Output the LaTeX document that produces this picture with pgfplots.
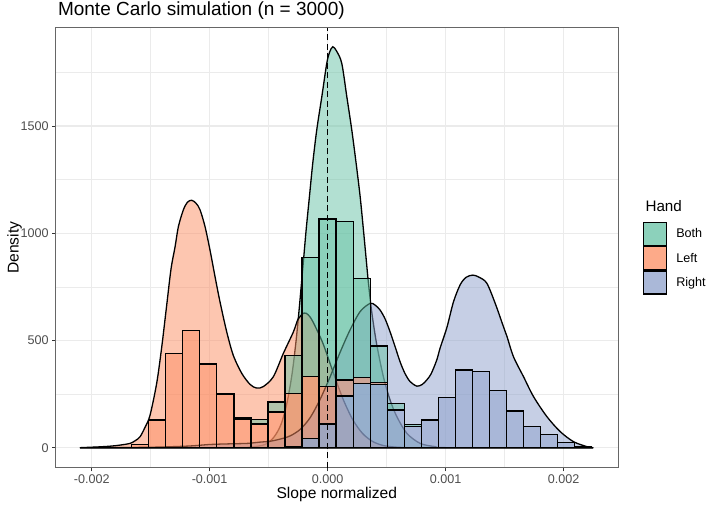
\documentclass[border=0pt]{standalone}
\usepackage{pgfplots}
\pgfplotsset{compat=1.18}
\usepackage{fontspec}
\setmainfont{Liberation Sans}
\definecolor{cboth}{HTML}{66C2A5}
\definecolor{cleft}{HTML}{FC8D62}
\definecolor{cright}{HTML}{8DA0CB}
\definecolor{kboth}{HTML}{8CD1BB}
\definecolor{kleft}{HTML}{FDAA89}
\definecolor{kright}{HTML}{AAB8D8}
\definecolor{tickgrey}{HTML}{4D4D4D}
\definecolor{gridgrey}{HTML}{EBEBEB}
\begin{document}
\begin{tikzpicture}[x=1bp,y=1bp]
\useasboundingbox (0,0) rectangle (706,506);
\pgfplotsset{
 commonaxis/.style={
  at={(55.7bp,38.3bp)}, anchor=south west, scale only axis,
  width=562.3bp, height=440bp,
  xmin=-2.305, xmax=2.462, ymin=-93.3, ymax=1959,
 }
}
\begin{axis}[commonaxis,
  axis line style={draw=black!60, line width=0.9bp},
  xtick={-2,-1,0,1,2}, xticklabels={-0.002,-0.001,0.000,0.001,0.002},
  minor xtick={-1.5,-0.5,0.5,1.5},
  ytick={0,500,1000,1500}, yticklabels={0,500,1000,1500},
  minor ytick={250,750,1250,1750},
  grid=both,
  major grid style={draw=gridgrey, line width=1.2bp},
  minor grid style={draw=gridgrey, line width=0.6bp},
  tick align=outside, major tick length=3.6bp, minor tick length=0pt,
  tick style={draw=black!80, line width=0.9bp},
  xtick pos=left, ytick pos=left,
  ticklabel style={font=\fontsize{12.6bp}{14bp}\selectfont, text=tickgrey},
  legend style={at={(1.0445,0.559)}, anchor=north west, draw=none, fill=none,
    inner sep=0pt, outer sep=0pt, row sep=0pt, column sep=9bp,
    nodes={inner sep=0pt, font=\fontsize{12.6bp}{14bp}\selectfont, text=black, anchor=base west}},
  legend cell align=left,
]
\addplot[draw=black, fill=cboth, fill opacity=0.5, line width=1.3bp, smooth, tension=0.5,
  legend image code/.code={\draw[draw=black, fill=kboth, fill opacity=1, line width=1.3bp] (0bp,-7.5bp) rectangle (23bp,15.5bp);}]
coordinates {
(-2.099,0) (-0.827,0) (-0.657,3) (-0.530,15) (-0.454,50) (-0.394,110) (-0.344,210)
(-0.301,345) (-0.267,500) (-0.242,640) (-0.221,770) (-0.205,870) (-0.182,1015)
(-0.154,1171) (-0.126,1326) (-0.092,1482) (-0.049,1637) (-0.007,1793) (0.017,1845)
(0.044,1870) (0.076,1850) (0.120,1793) (0.163,1637) (0.205,1482) (0.242,1326)
(0.276,1171) (0.304,1015) (0.327,880) (0.346,770) (0.375,630) (0.417,480)
(0.473,331) (0.530,222) (0.587,145) (0.672,67) (0.785,20) (0.912,5) (1.039,0) (2.252,0)
} \closedcycle;
\addlegendentry{Both}
\addplot[draw=black, fill=cleft, fill opacity=0.5, line width=1.3bp, smooth, tension=0.5,
  legend image code/.code={\draw[draw=black, fill=kleft, fill opacity=1, line width=1.3bp] (0bp,-7.5bp) rectangle (23bp,15.5bp);}]
coordinates {
(-2.099,0) (-2.014,2) (-1.930,4) (-1.845,7) (-1.760,12) (-1.675,20) (-1.633,32)
(-1.590,51) (-1.548,95) (-1.506,150) (-1.449,300) (-1.406,470) (-1.364,665)
(-1.327,835) (-1.293,937) (-1.265,1031) (-1.223,1109) (-1.188,1145) (-1.152,1154)
(-1.115,1140) (-1.081,1109) (-1.039,1031) (-0.997,922) (-0.954,797) (-0.912,680)
(-0.855,540) (-0.799,430) (-0.728,347) (-0.657,295) (-0.601,278) (-0.545,285)
(-0.460,331) (-0.375,440) (-0.290,540) (-0.250,600) (-0.200,628) (-0.165,620)
(-0.127,590) (-0.042,490) (0.042,360) (0.127,232) (0.212,132) (0.297,66)
(0.382,29) (0.466,11) (0.551,4) (0.636,1) (0.785,0) (2.252,0)
} \closedcycle;
\addlegendentry{Left}
\addplot[draw=black, fill=cright, fill opacity=0.5, line width=1.3bp, smooth, tension=0.5,
  legend image code/.code={\draw[draw=black, fill=kright, fill opacity=1, line width=1.3bp] (0bp,-7.5bp) rectangle (23bp,15.5bp);}]
coordinates {
(-2.099,0) (-1.675,1) (-1.421,3) (-1.166,8) (-0.997,15) (-0.827,18) (-0.683,20)
(-0.573,26) (-0.488,30) (-0.403,40) (-0.318,55) (-0.233,85) (-0.148,140)
(-0.064,225) (0.021,330) (0.106,445) (0.191,550) (0.276,635) (0.360,673)
(0.403,665) (0.445,642) (0.488,600) (0.530,540) (0.573,470) (0.615,400)
(0.657,345) (0.700,308) (0.757,287) (0.802,295) (0.841,316) (0.878,345)
(0.926,410) (0.954,465) (1.011,560) (1.067,680) (1.124,760) (1.175,795)
(1.232,805) (1.285,795) (1.350,767) (1.421,673) (1.491,564) (1.520,520)
(1.576,424) (1.661,331) (1.746,238) (1.859,145) (1.972,75) (2.085,28)
(2.198,5) (2.252,0)
} \closedcycle;
\addlegendentry{Right}
\end{axis}
\begin{axis}[commonaxis, hide axis, ybar stacked, bar width=0.1445]
\addplot[fill=cright, fill opacity=0.5, draw=black, line width=1.3bp] coordinates {
(-1.5895,0) (-1.445,0) (-1.3005,0) (-1.156,0) (-1.0115,0) (-0.867,0) (-0.7225,0)
(-0.578,0) (-0.4335,0) (-0.289,5) (-0.1445,44) (0,110) (0.1445,241) (0.289,300)
(0.4335,296) (0.578,176) (0.7225,100) (0.867,129) (1.0115,235) (1.156,362)
(1.3005,355) (1.445,266) (1.5895,171) (1.734,98) (1.8785,62) (2.023,23) (2.1675,6)
};
\addplot[fill=cleft, fill opacity=0.5, draw=black, line width=1.3bp] coordinates {
(-1.5895,15) (-1.445,129) (-1.3005,440) (-1.156,547) (-1.0115,388) (-0.867,249) (-0.7225,132)
(-0.578,110) (-0.4335,166) (-0.289,249) (-0.1445,287) (0,175) (0.1445,75) (0.289,27)
(0.4335,8) (0.578,0) (0.7225,0) (0.867,0) (1.0115,0) (1.156,0)
(1.3005,0) (1.445,0) (1.5895,0) (1.734,0) (1.8785,0) (2.023,0) (2.1675,0)
};
\addplot[fill=cboth, fill opacity=0.5, draw=black, line width=1.3bp] coordinates {
(-1.5895,0) (-1.445,0) (-1.3005,0) (-1.156,0) (-1.0115,5) (-0.867,5) (-0.7225,6)
(-0.578,22) (-0.4335,47) (-0.289,175) (-0.1445,555) (0,782) (0.1445,738) (0.289,463)
(0.4335,170) (0.578,31) (0.7225,9) (0.867,0) (1.0115,0) (1.156,0)
(1.3005,0) (1.445,0) (1.5895,0) (1.734,0) (1.8785,0) (2.023,0) (2.1675,0)
};
\end{axis}
\begin{axis}[commonaxis, hide axis]
\addplot[black, dash pattern=on 6bp off 3.5bp, line width=1.4bp] coordinates {(0,-93.3) (0,1959)};
\end{axis}
\node[anchor=base west, font=\fontsize{19bp}{22bp}\selectfont] at (54.5,490) {Monte Carlo simulation (n = 3000)};
\node[anchor=base west, font=\fontsize{15.2bp}{17bp}\selectfont] at (642,294.3) {Hand};
\node[rotate=90, anchor=base, font=\fontsize{15.6bp}{17bp}\selectfont] at (18.5,258.3) {Density};
\node[anchor=base, font=\fontsize{15.6bp}{17bp}\selectfont] at (336.85,7) {Slope normalized};
\end{tikzpicture}
\end{document}
